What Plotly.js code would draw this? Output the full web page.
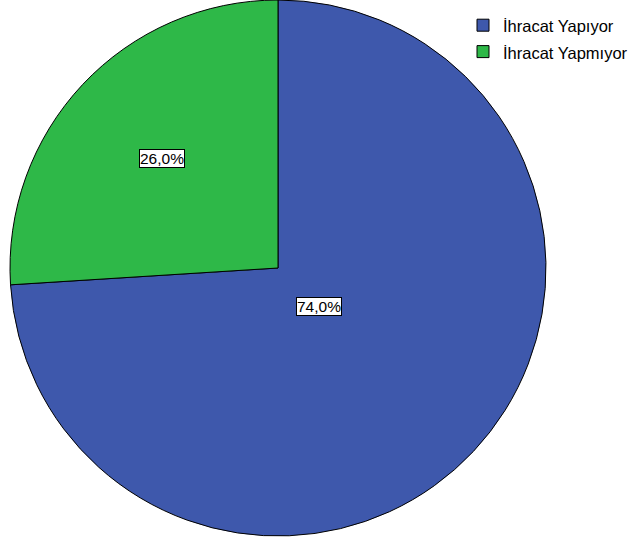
<!DOCTYPE html>
<html>
<head>
<meta charset="utf-8">
<script src="https://cdn.plot.ly/plotly-3.0.1.min.js"></script>
<style>html,body{margin:0;padding:0;background:#fff}#chart{width:629px;height:539px}</style>
</head>
<body>
<div id="chart"></div>
<script>
const labels = ["İhracat Yapıyor", "İhracat Yapmıyor"];
const values = [74.0, 26.0];
const colors = ["#3E58AC", "#2EB848"];

const W = 629, H = 539;
const cx = 278, cy = 268, R = 268;
const labelRadiusFrac = [0.21, 0.595];

const total = values.reduce((a, b) => a + b, 0);
const annotations = [];
let start = 0;
values.forEach((v, i) => {
  const mid = (start + v / 2) / total * 2 * Math.PI;
  start += v;
  const px = cx + R * labelRadiusFrac[i] * Math.sin(mid);
  const py = cy - R * labelRadiusFrac[i] * Math.cos(mid);
  annotations.push({
    x: px / W, y: 1 - py / H, xref: 'paper', yref: 'paper',
    xanchor: 'center', yanchor: 'middle',
    text: (v / total * 100).toFixed(1).replace('.', ',') + '%',
    showarrow: false, bgcolor: '#ffffff', bordercolor: '#000000',
    borderwidth: 1, borderpad: 0,
    font: {family: 'Liberation Sans, Arial, sans-serif', size: 15.5, color: '#000'}
  });
});

const legendLabels = labels.map(l => '<span style="font-size:16.5px">' + l + '</span>');

const trace = {
  type: 'pie',
  labels: legendLabels,
  values: values,
  sort: false,
  direction: 'clockwise',
  rotation: 0,
  textinfo: 'none',
  hoverinfo: 'none',
  marker: {colors: colors, line: {color: '#000000', width: 1}},
  domain: {x: [(cx - R) / W, (cx + R) / W], y: [1 - (cy + R) / H, 1 - (cy - R) / H]}
};

const layout = {
  width: W, height: H,
  margin: {l: 0, r: 0, t: 0, b: 0, autoexpand: false},
  paper_bgcolor: '#ffffff',
  showlegend: true,
  legend: {
    xref: 'container', yref: 'container',
    x: 463 / W, y: 1 - 7 / H, xanchor: 'left', yanchor: 'top',
    font: {family: 'Liberation Sans, Arial, sans-serif', size: 18, color: '#000'},
    bgcolor: 'rgba(0,0,0,0)'
  },
  annotations: annotations
};

Plotly.newPlot('chart', [trace], layout, {displayModeBar: false, staticPlot: true});
</script>
</body>
</html>
